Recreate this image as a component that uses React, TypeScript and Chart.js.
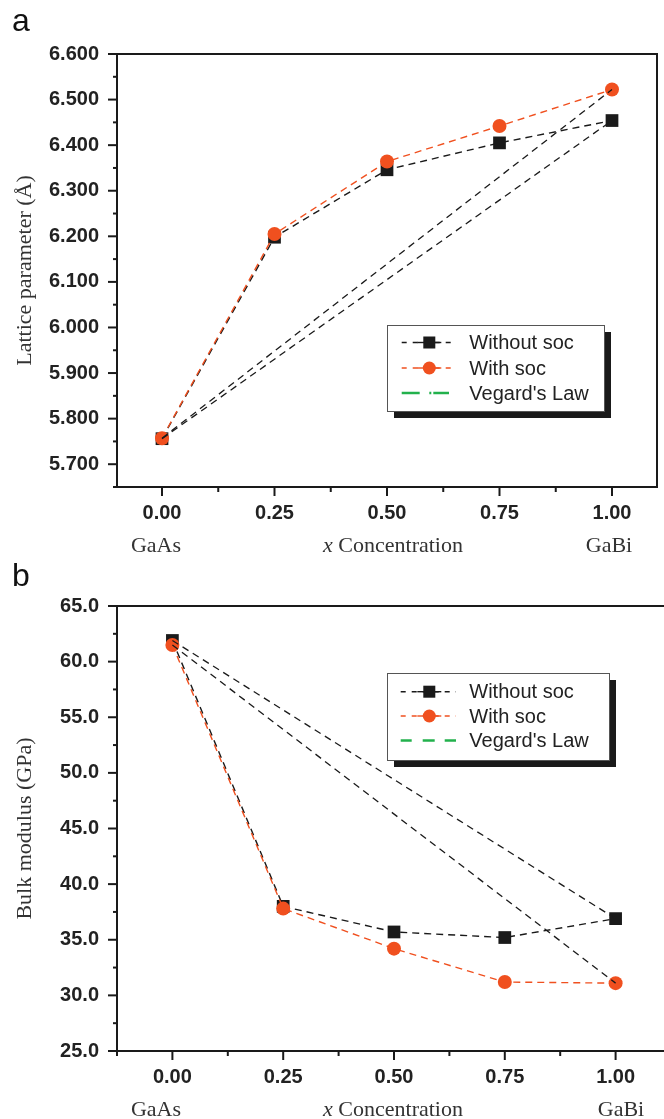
import React, { useEffect, useRef } from 'react';
import { Chart, registerables } from 'chart.js';

Chart.register(...registerables);

// ---------------- data ----------------
const xValues = [0, 0.25, 0.5, 0.75, 1.0];

const latticeWithoutSoc = [5.756, 6.198, 6.346, 6.405, 6.454];
const latticeWithSoc = [5.757, 6.205, 6.364, 6.442, 6.522];

const bulkWithoutSoc = [61.9, 38.0, 35.7, 35.2, 36.9];
const bulkWithSoc = [61.5, 37.8, 34.2, 31.2, 31.1];

const xMajorTicks = [0, 0.25, 0.5, 0.75, 1.0];
const xMinorTicks = [-0.125, 0.125, 0.375, 0.625, 0.875, 1.125];

const latticeMajorTicks = [5.7, 5.8, 5.9, 6.0, 6.1, 6.2, 6.3, 6.4, 6.5, 6.6];
const latticeMinorTicks = [5.65, 5.75, 5.85, 5.95, 6.05, 6.15, 6.25, 6.35, 6.45, 6.55];

const bulkMajorTicks = [25, 30, 35, 40, 45, 50, 55, 60, 65];
const bulkMinorTicks = [27.5, 32.5, 37.5, 42.5, 47.5, 52.5, 57.5, 62.5];

const legendLabels = ['Without soc', 'With soc', "Vegard's Law"];
const bottomLabels = ['GaAs', 'Concentration', 'GaBi'];

// ---------------- styles ----------------
const BLACK = '#1a1a1a';
const ORANGE = '#f0501f';
const GREEN = '#22b14c';
const TEXT = '#222222';
const TITLE = '#333333';

const decorPlugin = {
  id: 'decor',
  afterDraw(chart: any, _args: any, o: any) {
    const ctx = chart.ctx as CanvasRenderingContext2D;
    const { left, right, top, bottom } = chart.chartArea;
    const xs = chart.scales.x;
    const ys = chart.scales.y;
    ctx.save();

    // top & right frame
    ctx.strokeStyle = BLACK;
    ctx.lineWidth = 2;
    ctx.setLineDash([]);
    ctx.beginPath();
    ctx.moveTo(left - 1, top);
    ctx.lineTo(right, top);
    ctx.lineTo(right, bottom + 1);
    ctx.stroke();

    const seg = (x1: number, y1: number, x2: number, y2: number) => {
      ctx.beginPath();
      ctx.moveTo(x1, y1);
      ctx.lineTo(x2, y2);
      ctx.stroke();
    };

    // ticks (outside)
    ctx.lineWidth = 2;
    const inY = (v: number) => v >= ys.min - 1e-9 && v <= ys.max + 1e-9;
    const inX = (v: number) => v >= xs.min - 1e-9 && v <= xs.max + 1e-9;
    o.yMajor.filter(inY).forEach((v: number) => {
      const y = ys.getPixelForValue(v);
      seg(left - 9, y, left, y);
    });
    o.yMinor.filter(inY).forEach((v: number) => {
      const y = ys.getPixelForValue(v);
      seg(left - 4, y, left, y);
    });
    o.xMajor.filter(inX).forEach((v: number) => {
      const x = xs.getPixelForValue(v);
      seg(x, bottom, x, bottom + 9);
    });
    o.xMinor.filter(inX).forEach((v: number) => {
      const x = xs.getPixelForValue(v);
      seg(x, bottom, x, bottom + 5);
    });

    // bottom texts
    ctx.fillStyle = TITLE;
    ctx.textBaseline = 'alphabetic';
    ctx.textAlign = 'center';
    ctx.font = '22px "Liberation Serif"';
    const by = bottom + 65;
    ctx.fillText(bottomLabels[0], o.gaasX, by);
    ctx.fillText(bottomLabels[2], o.gabiX, by);
    ctx.textAlign = 'left';
    ctx.font = 'italic 22px "Liberation Serif"';
    const wx = ctx.measureText('x').width;
    ctx.font = '22px "Liberation Serif"';
    const rest = ' ' + bottomLabels[1];
    const wr = ctx.measureText(rest).width;
    const sx = o.concX - (wx + wr) / 2;
    ctx.font = 'italic 22px "Liberation Serif"';
    ctx.fillText('x', sx, by);
    ctx.font = '22px "Liberation Serif"';
    ctx.fillText(rest, sx + wx, by);

    // panel letter
    ctx.fillStyle = '#111';
    ctx.font = '32px "Liberation Sans"';
    ctx.textAlign = 'left';
    ctx.fillText(o.letter, 12, o.letterY);

    // legend
    const L = o.legend;
    const [bx1, by1, bx2, by2] = L.box;
    ctx.fillStyle = BLACK;
    ctx.fillRect(bx1 + 7, by1 + 7, bx2 - bx1, by2 - by1);
    ctx.fillStyle = '#ffffff';
    ctx.fillRect(bx1, by1, bx2 - bx1, by2 - by1);
    ctx.strokeStyle = '#555';
    ctx.lineWidth = 1;
    ctx.strokeRect(bx1 + 0.5, by1 + 0.5, bx2 - bx1, by2 - by1);

    const [sx1, sx2] = L.sym;
    // row 1: without soc
    ctx.strokeStyle = BLACK;
    ctx.lineWidth = 1.4;
    ctx.setLineDash([5, 6]);
    seg(sx1, L.rows[0], sx2, L.rows[0]);
    ctx.setLineDash([]);
    seg(L.markerX - 12, L.rows[0], L.markerX + 12, L.rows[0]);
    ctx.fillStyle = BLACK;
    ctx.fillRect(L.markerX - 6, L.rows[0] - 6, 12, 12);
    // row 2: with soc
    ctx.strokeStyle = ORANGE;
    ctx.setLineDash([5, 6]);
    seg(sx1, L.rows[1], sx2, L.rows[1]);
    ctx.setLineDash([]);
    seg(L.markerX - 12, L.rows[1], L.markerX + 12, L.rows[1]);
    ctx.fillStyle = ORANGE;
    ctx.beginPath();
    ctx.arc(L.markerX, L.rows[1], 6.5, 0, Math.PI * 2);
    ctx.fill();
    // row 3: vegard
    ctx.strokeStyle = GREEN;
    ctx.lineWidth = 2.5;
    if (L.dashDot) {
      seg(sx1, L.rows[2], sx1 + 18, L.rows[2]);
      seg(L.markerX, L.rows[2], L.markerX + 2, L.rows[2]);
      seg(L.markerX + 4, L.rows[2], sx2 - 7, L.rows[2]);
    } else {
      seg(sx1, L.rows[2], sx1 + 11, L.rows[2]);
      seg(sx1 + 22, L.rows[2], sx1 + 34, L.rows[2]);
      seg(sx1 + 44, L.rows[2], sx2, L.rows[2]);
    }
    ctx.fillStyle = TEXT;
    ctx.font = '20px "Liberation Sans"';
    ctx.textBaseline = 'middle';
    ctx.textAlign = 'left';
    legendLabels.forEach((t, i) => ctx.fillText(t, L.textX, L.rows[i] + 1));

    ctx.restore();
  },
};

function pts(vals: number[]) {
  return xValues.map((x, i) => ({ x, y: vals[i] }));
}

function endpoints(vals: number[]) {
  return [
    { x: xValues[0], y: vals[0] },
    { x: xValues[xValues.length - 1], y: vals[vals.length - 1] },
  ];
}

function zeroPad(s: any) {
  s.paddingLeft = 0;
  s.paddingRight = 0;
  s.paddingTop = 0;
  s.paddingBottom = 0;
}

function makeConfig(p: any) {
  const dash = [7, 5];
  return {
    type: 'line',
    data: {
      datasets: [
        {
          label: legendLabels[2] + ' 1',
          data: endpoints(p.withSoc),
          borderColor: BLACK,
          borderWidth: 1.3,
          borderDash: dash,
          pointRadius: 0,
          order: 0,
        },
        {
          label: legendLabels[2] + ' 2',
          data: endpoints(p.withoutSoc),
          borderColor: BLACK,
          borderWidth: 1.3,
          borderDash: dash,
          pointRadius: 0,
          order: 0,
        },
        {
          label: legendLabels[1],
          data: pts(p.withSoc),
          borderColor: ORANGE,
          borderWidth: 1.4,
          borderDash: dash,
          pointStyle: 'circle',
          pointRadius: 7,
          pointBackgroundColor: ORANGE,
          pointBorderColor: ORANGE,
          pointBorderWidth: 0,
          order: 1,
        },
        {
          label: legendLabels[0],
          data: pts(p.withoutSoc),
          borderColor: BLACK,
          borderWidth: 1.4,
          borderDash: dash,
          pointStyle: 'rect',
          pointRadius: 9,
          pointBackgroundColor: BLACK,
          pointBorderColor: BLACK,
          pointBorderWidth: 0,
          order: 2,
        },
      ],
    },
    options: {
      animation: false,
      responsive: false,
      events: [],
      layout: {
        autoPadding: false,
        padding: { top: p.padTop, right: p.padRight, left: 0, bottom: 0 },
      },
      plugins: {
        legend: { display: false },
        tooltip: { enabled: false },
        decor: p.decor,
      },
      scales: {
        x: {
          type: 'linear',
          min: p.xMin,
          max: p.xMax,
          grid: { display: false, drawTicks: false, tickLength: 0 },
          border: { display: true, color: BLACK, width: 2 },
          afterBuildTicks: (s: any) => {
            s.ticks = xMajorTicks.map((v) => ({ value: v }));
          },
          afterFit: (s: any) => {
            s.height = p.xHeight;
            zeroPad(s);
          },
          ticks: {
            padding: 14,
            color: TEXT,
            font: { family: 'Liberation Sans', size: 20, weight: 'bold' },
            callback: (v: any) => Number(v).toFixed(2),
            maxRotation: 0,
            autoSkip: false,
          },
        },
        y: {
          type: 'linear',
          min: p.yMin,
          max: p.yMax,
          grid: { display: false, drawTicks: false, tickLength: 0 },
          border: { display: true, color: BLACK, width: 2 },
          afterBuildTicks: (s: any) => {
            s.ticks = p.yMajor.map((v: number) => ({ value: v }));
          },
          afterFit: (s: any) => {
            s.width = 117;
            zeroPad(s);
          },
          ticks: {
            padding: 18,
            color: TEXT,
            font: { family: 'Liberation Sans', size: 20, weight: 'bold' },
            callback: (v: any) => Number(v).toFixed(p.decimals),
            autoSkip: false,
          },
          title: {
            display: true,
            text: p.yTitle,
            color: TITLE,
            font: { family: 'Liberation Serif', size: 22, weight: 'normal' },
            padding: { top: 12, bottom: 0 },
          },
        },
      },
    },
    plugins: [decorPlugin],
  };
}

function ChartCanvas({ config, width, height, top }: any) {
  const ref = useRef<HTMLCanvasElement | null>(null);
  useEffect(() => {
    if (!ref.current) return;
    const chart = new Chart(ref.current, config as any);
    return () => chart.destroy();
  }, []);
  return (
    <div style={{ position: 'absolute', left: 0, top, width, height }}>
      <canvas
        ref={ref}
        width={width}
        height={height}
        style={{ width, height, display: 'block' }}
      />
    </div>
  );
}

const configA = makeConfig({
  withoutSoc: latticeWithoutSoc,
  withSoc: latticeWithSoc,
  xMin: -0.1,
  xMax: 1.1,
  yMin: 5.65,
  yMax: 6.6,
  yMajor: latticeMajorTicks,
  decimals: 3,
  yTitle: 'Lattice parameter (Å)',
  padTop: 54,
  padRight: 7,
  xHeight: 73,
  decor: {
    yMajor: latticeMajorTicks,
    yMinor: latticeMinorTicks,
    xMajor: xMajorTicks,
    xMinor: xMinorTicks,
    gaasX: 156,
    gabiX: 609,
    concX: 393,
    letter: 'a',
    letterY: 31,
    legend: {
      box: [387, 325, 604, 411],
      rows: [342.5, 368, 393],
      sym: [401.7, 456],
      markerX: 429.3,
      textX: 469.3,
      dashDot: true,
    },
  },
});

const configB = makeConfig({
  withoutSoc: bulkWithoutSoc,
  withSoc: bulkWithSoc,
  xMin: -0.125,
  xMax: 1.125,
  yMin: 25,
  yMax: 65,
  yMajor: bulkMajorTicks,
  decimals: 1,
  yTitle: 'Bulk modulus (GPa)',
  padTop: 46,
  padRight: 1,
  xHeight: 68,
  decor: {
    yMajor: bulkMajorTicks,
    yMinor: bulkMinorTicks,
    xMajor: xMajorTicks,
    xMinor: xMinorTicks,
    gaasX: 156,
    gabiX: 621,
    concX: 393,
    letter: 'b',
    letterY: 26,
    legend: {
      box: [387, 113, 609, 200],
      rows: [131.7, 156, 180.5],
      sym: [400.7, 456],
      markerX: 429.3,
      textX: 469.3,
      dashDot: false,
    },
  },
});

export default function App() {
  return (
    <div
      style={{
        position: 'fixed',
        left: 0,
        top: 0,
        width: 664,
        height: 1119,
        overflow: 'hidden',
        background: '#ffffff',
      }}
    >
      <div style={{ position: 'absolute', left: 0, top: 0, width: 700, height: 1119 }}>
        <ChartCanvas config={configA} width={664} height={560} top={0} />
        <ChartCanvas config={configB} width={672} height={559} top={560} />
      </div>
    </div>
  );
}
